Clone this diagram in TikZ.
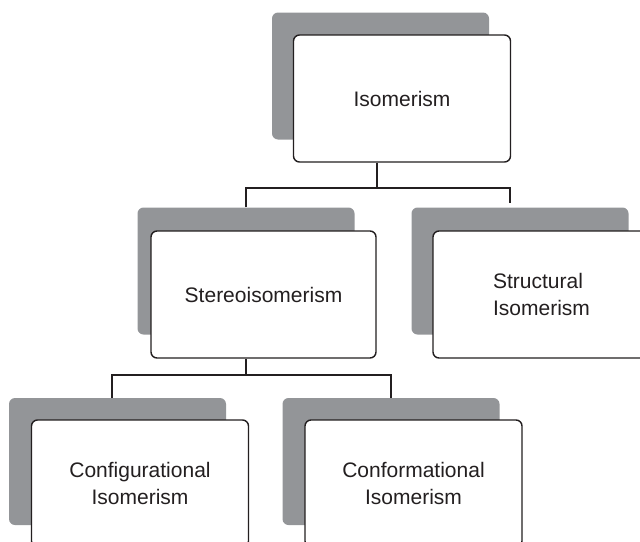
\documentclass[tikz,border=0pt]{standalone}
\usepackage{fontspec}
\setmainfont{Liberation Sans}
\definecolor{shadowgray}{RGB}{147,149,152}
\definecolor{inkblack}{RGB}{35,31,32}

\begin{document}
\begin{tikzpicture}[x=1pt, y=-1pt,
  backbox/.style={fill=shadowgray, rounded corners=6pt, minimum width=217pt, minimum height=127pt, inner sep=0pt},
  card/.style={draw=inkblack, text=inkblack, line width=1.4pt, fill=white, rounded corners=6pt,
    minimum width=217pt, minimum height=127pt, align=center, font=\fontsize{21}{26.5}\selectfont},
  link/.style={draw=inkblack, line width=2.3pt}]

% Page frame, the lower and right blocks run off the edge
\useasboundingbox (0,0) rectangle (640,541);
\clip (0,0) rectangle (640,541);

% Isomerism block
\node[backbox] (isoback) at (380.5,76) {};
\node[card] (iso) at (402,98.5) {Isomerism};

% Stereoisomerism block
\node[backbox] (stereoback) at (246,271) {};
\node[card, minimum width=225pt] (stereo) at (263.5,294.5) {Stereoisomerism};

% Structural isomerism block
\node[backbox] (structback) at (520,271) {};
\node[card, align=left] (struct) at (541.5,294.5) {Structural\\Isomerism};

% Configurational block
\node[backbox] (configback) at (117.5,461.5) {};
\node[card] (config) at (140,483.5) {Configurational\\Isomerism};

% Conformational block
\node[backbox] (conformback) at (391,461.5) {};
\node[card] (conform) at (413.5,483.5) {Conformational\\Isomerism};

% Tree links
\draw[link] ([xshift=-25pt]iso.south) -- ++(0,25) coordinate (isofork);
\draw[link] (stereoback.north) |- (isofork) -| ([xshift=-10pt,yshift=4pt]structback.north);

\draw[link] ([xshift=-17.5pt]stereo.south) -- ++(0,16) coordinate (stereofork);
\draw[link] ([xshift=-5.5pt]configback.north) |- (stereofork) -| (conformback.north);

\end{tikzpicture}
\end{document}
